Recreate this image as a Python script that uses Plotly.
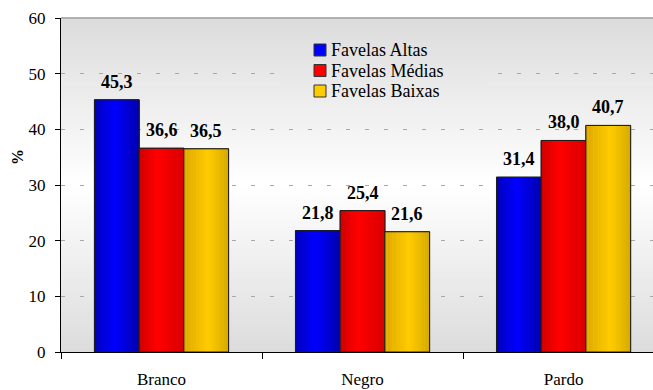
import plotly.graph_objects as go

# --- data -------------------------------------------------------------
categories = ["Branco", "Negro", "Pardo"]
series_names = ["Favelas Altas", "Favelas Médias", "Favelas Baixas"]
altas = [45.3, 21.8, 31.4]
medias = [36.6, 25.4, 38.0]
baixas = [36.5, 21.6, 40.7]
y_ticks = [0, 10, 20, 30, 40, 50, 60]
y_title = "%"

series_values = [altas, medias, baixas]

# --- style ------------------------------------------------------------
FONT = "Liberation Serif, Times New Roman, serif"
W, H = 653, 390
ML, MR, MT, MB = 61, 0, 18, 38
PW, PH = W - ML - MR, H - MT - MB

# (left edge, highlight, right edge, highlight position) for the cylinder-like shading
shading = [
    ((0, 0, 185), (0, 0, 255), (0, 0, 170), 0.45),
    ((205, 0, 0), (255, 0, 0), (215, 0, 0), 0.40),
    ((222, 168, 0), (255, 204, 0), (212, 168, 0), 0.55),
]
flat_colors = ["#0000ff", "#ff0000", "#ffcc00"]
BORDER = "#1e1e1e"
BAR_W = 0.2224
GROUP_START = -0.3336
N_STRIPS = 18


def px_x(px):
    return (px - ML) / PW


def px_y(py):
    return (H - MB - py) / PH


def mix(a, b, t):
    return tuple(round(a[i] + (b[i] - a[i]) * t) for i in range(3))


def shade_at(spec, s):
    left, peak, right, sp = spec
    if s <= sp:
        return mix(left, peak, s / sp)
    return mix(peak, right, (s - sp) / (1 - sp))


def bg_gray(t):
    # vertical gradient: grey at top and bottom, white in the middle
    g = round(220 + 35 * (1 - abs(2 * t - 1)))
    return f"rgb({g},{g},{g})"


def fmt(v):
    return f"{v:.1f}".replace(".", ",")


fig = go.Figure()
annotations = []

for i, (name, vals) in enumerate(zip(series_names, series_values)):
    off = GROUP_START + i * BAR_W
    # base bar
    fig.add_trace(go.Bar(
        x=categories, y=vals, name=name, width=BAR_W, offset=off,
        marker=dict(color=flat_colors[i], line=dict(color=BORDER, width=1)),
        showlegend=False,
    ))
    # shading strips
    sw = BAR_W / N_STRIPS
    for k in range(N_STRIPS):
        c = shade_at(shading[i], (k + 0.5) / N_STRIPS)
        fig.add_trace(go.Bar(
            x=categories, y=vals, width=sw * 1.05, offset=off + k * sw,
            marker=dict(color=f"rgb{c}", line=dict(width=0)),
            showlegend=False, hoverinfo="skip",
        ))
    # outline
    fig.add_trace(go.Bar(
        x=categories, y=vals, width=BAR_W, offset=off,
        marker=dict(color="rgba(0,0,0,0)", line=dict(color=BORDER, width=1)),
        showlegend=False, hoverinfo="skip",
    ))
    # value labels above each bar
    for j, v in enumerate(vals):
        annotations.append(dict(
            x=j + off + BAR_W / 2, y=v, xref="x", yref="y",
            text=f"<b>{fmt(v)}</b>", showarrow=False,
            xanchor="center", yanchor="bottom", yshift=6,
            font=dict(family=FONT, size=18, color="black"),
        ))

# background gradient strips
shapes = []
N_BG = 80
for k in range(N_BG):
    y0 = k / N_BG
    y1 = (k + 1) / N_BG
    shapes.append(dict(type="rect", xref="paper", yref="paper", x0=0, x1=1,
                       y0=y0, y1=y1 + 0.002, fillcolor=bg_gray((k + 0.5) / N_BG),
                       line=dict(width=0), layer="below"))
# legend area: repaint the gradient over the grid line behind the legend box
LX0, LX1, LY0, LY1 = px_x(279), px_x(484), px_y(88), px_y(60)
nl = 12
for k in range(nl):
    y0 = LY0 + (LY1 - LY0) * k / nl
    y1 = LY0 + (LY1 - LY0) * (k + 1) / nl
    shapes.append(dict(type="rect", xref="paper", yref="paper", x0=LX0, x1=LX1,
                       y0=y0, y1=y1 + 0.002, fillcolor=bg_gray((y0 + y1) / 2),
                       line=dict(width=0), layer="above"))
# top border of the plot area
shapes.append(dict(type="line", xref="paper", yref="paper", x0=0, x1=1, y0=1, y1=1,
                   line=dict(color="#808080", width=1), layer="above"))

# legend: square swatches with series names
LEG_X, LEG_Y0, LEG_DY, SW = 314, 50, 20.5, 12
for i, name in enumerate(series_names):
    cy = LEG_Y0 + i * LEG_DY
    shapes.append(dict(type="rect", xref="paper", yref="paper",
                       x0=px_x(LEG_X), x1=px_x(LEG_X + SW),
                       y0=px_y(cy + SW / 2), y1=px_y(cy - SW / 2),
                       fillcolor=flat_colors[i], line=dict(color="#333333", width=1),
                       layer="above"))
    annotations.append(dict(
        x=px_x(LEG_X + SW + 3), y=px_y(cy), xref="paper", yref="paper",
        text=name, showarrow=False, xanchor="left", yanchor="middle",
        font=dict(family=FONT, size=18, color="black"),
    ))

# rotated y-axis title
annotations.append(dict(
    x=px_x(17), y=px_y(157), xref="paper", yref="paper",
    text=f"<b>{y_title}</b>", showarrow=False, textangle=-90,
    xanchor="center", yanchor="middle",
    font=dict(family=FONT, size=16, color="black"),
))

fig.update_layout(
    width=W, height=H,
    margin=dict(l=ML, r=MR, t=MT, b=MB),
    paper_bgcolor="white", plot_bgcolor="rgba(0,0,0,0)",
    barmode="overlay", showlegend=False,
    font=dict(family=FONT, size=17, color="black"),
    shapes=shapes, annotations=annotations,
    xaxis=dict(type="category", range=[-0.5, 2.445], tickson="boundaries",
               ticks="outside", ticklen=6, tickcolor="black",
               showline=True, linecolor="black", linewidth=1,
               showgrid=False, ticklabelstandoff=12,
               tickfont=dict(family=FONT, size=17)),
    yaxis=dict(range=[0, 60], tickvals=y_ticks, ticks="outside", ticklen=5,
               tickcolor="black", showline=True, linecolor="black", linewidth=1,
               showgrid=True, gridcolor="#a8a8a8", griddash="4px,15px",
               zeroline=False, tickfont=dict(family=FONT, size=17),
               ticklabelstandoff=6),
)

fig.write_html("out.html")
